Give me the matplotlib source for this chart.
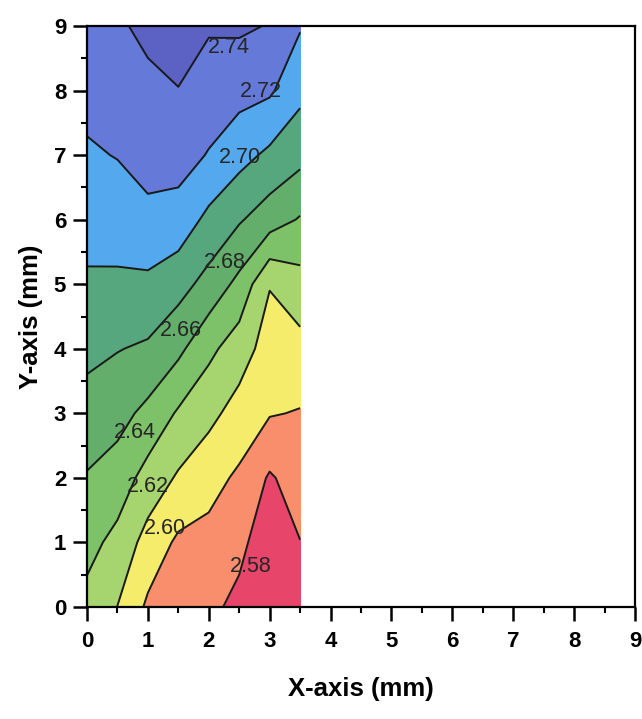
import numpy as np
import matplotlib
matplotlib.use("Agg")
import matplotlib.pyplot as plt
from matplotlib.ticker import MultipleLocator

plt.rcParams['font.family'] = ['Liberation Sans', 'DejaVu Sans']

# grid coordinates (mm)
x_mm = [0.0, 0.5, 1.0, 1.5, 2.0, 2.5, 3.0, 3.5]
y_mm = [0, 1, 2, 3, 4, 5, 6, 7, 8, 9]

# estimated field values, one list per column (x), from y=0 to y=9
col_x0_0 = [2.634, 2.6463, 2.6585, 2.6721, 2.6851, 2.6971, 2.7076, 2.7175, 2.7260, 2.7330]
col_x0_5 = [2.6197, 2.6342, 2.6509, 2.6669, 2.6808, 2.6965, 2.7093, 2.7208, 2.7289, 2.7370]
col_x1_0 = [2.5965, 2.6124, 2.6325, 2.6547, 2.6772, 2.6956, 2.7160, 2.7260, 2.7349, 2.7450]
col_x1_5 = [2.5850, 2.5965, 2.6175, 2.6376, 2.6646, 2.6873, 2.7120, 2.7280, 2.7395, 2.7480]
col_x2_0 = [2.5850, 2.5940, 2.6069, 2.6254, 2.6448, 2.6732, 2.6949, 2.7188, 2.7310, 2.7420]
col_x2_5 = [2.5744, 2.5856, 2.5967, 2.6122, 2.6296, 2.6545, 2.6820, 2.7068, 2.7268, 2.7430]
col_x3_0 = [2.5550, 2.5664, 2.5777, 2.6013, 2.6111, 2.6210, 2.6697, 2.6959, 2.7229, 2.7390]
col_x3_5 = [2.5750, 2.5796, 2.5892, 2.5988, 2.6136, 2.6324, 2.6583, 2.6861, 2.7052, 2.7216]

levels = [2.50, 2.58, 2.60, 2.62, 2.64, 2.66, 2.68, 2.70, 2.72, 2.74, 2.80]
band_colors = ['#E8456A', '#F98E6C', '#F6EC6C', '#A6D46E', '#7DC168',
               '#63AE6A', '#56A67E', '#54A9EE', '#6479D8', '#5C62C4']
line_levels = [2.58, 2.60, 2.62, 2.64, 2.66, 2.68, 2.70, 2.72, 2.74]

label_texts = ['2.74', '2.72', '2.70', '2.68', '2.66', '2.64', '2.62', '2.60', '2.58']
label_x = [2.33, 2.86, 2.52, 2.27, 1.54, 0.79, 1.00, 1.28, 2.69]
label_y = [8.66, 7.99, 6.96, 5.33, 4.28, 2.71, 1.86, 1.22, 0.62]

Z = np.array([col_x0_0, col_x0_5, col_x1_0, col_x1_5, col_x2_0,
              col_x2_5, col_x3_0, col_x3_5]).T
X, Y = np.meshgrid(x_mm, y_mm)

fig = plt.figure(figsize=(6.42, 7.19), dpi=100)
ax = fig.add_axes([0.1355, 0.1558, 0.8536, 0.808])

ax.contourf(X, Y, Z, levels=levels, colors=band_colors)
ax.contour(X, Y, Z, levels=line_levels, colors='#1a1a1a', linewidths=1.4)

for t, lx, ly in zip(label_texts, label_x, label_y):
    ax.text(lx, ly, t, fontsize=15.5, color='#262626', ha='center', va='center')

ax.set_xlim(0, 9)
ax.set_ylim(0, 9)
ax.xaxis.set_major_locator(MultipleLocator(1))
ax.xaxis.set_minor_locator(MultipleLocator(0.5))
ax.yaxis.set_major_locator(MultipleLocator(1))
ax.yaxis.set_minor_locator(MultipleLocator(0.5))
ax.tick_params(which='major', direction='out', length=10, width=1.8,
               labelsize=16, pad=5)
ax.tick_params(axis='x', which='major', pad=7)
ax.tick_params(which='minor', direction='out', length=4, width=1.5)
for lab in ax.get_xticklabels() + ax.get_yticklabels():
    lab.set_fontweight('bold')
for sp in ax.spines.values():
    sp.set_linewidth(1.6)

ax.set_xlabel('X-axis (mm)', fontsize=18.5, fontweight='bold', labelpad=18)
ax.set_ylabel('Y-axis (mm)', fontsize=18.5, fontweight='bold', labelpad=8)

fig.savefig('out.png', dpi=100)
